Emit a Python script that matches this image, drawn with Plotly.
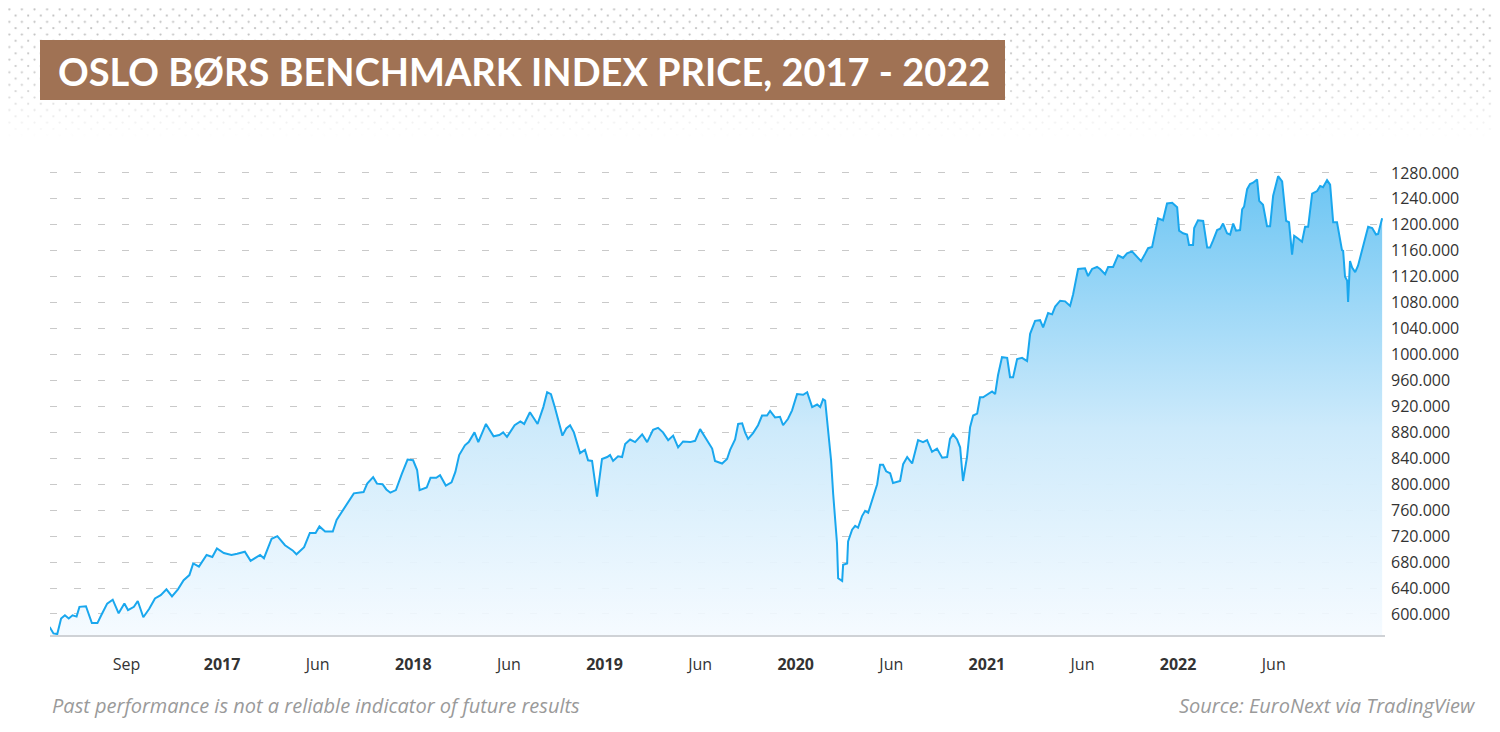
import base64
import plotly.graph_objects as go

# time in decimal years, index level
t = [2016.098,2016.118,2016.138,2016.158,2016.178,2016.198,2016.218,2016.239,2016.254,2016.288,2016.319,2016.348,2016.368,2016.399,2016.428,2016.459,2016.489,2016.508,2016.539,2016.559,2016.588,2016.619,2016.649,2016.679,2016.709,2016.738,2016.769,2016.799,2016.829,2016.849,2016.879,2016.919,2016.949,2016.973,
2017.009,2017.049,2017.079,2017.119,2017.149,2017.199,2017.219,2017.259,2017.289,2017.329,2017.369,2017.389,2017.429,2017.459,2017.489,2017.509,2017.539,2017.579,2017.599,2017.629,2017.660,2017.689,2017.740,2017.759,2017.790,2017.810,2017.839,2017.859,2017.880,2017.909,2017.940,2017.970,2017.999,
2018.020,2018.033,2018.070,2018.090,2018.120,2018.140,2018.170,2018.200,2018.220,2018.240,2018.270,2018.290,2018.320,2018.340,2018.380,2018.420,2018.450,2018.470,2018.490,2018.530,2018.560,2018.580,2018.610,2018.650,2018.680,2018.700,2018.720,2018.740,2018.760,2018.780,2018.800,2018.820,2018.840,
2018.872,2018.898,2018.914,2018.935,2018.961,2018.987,2019.014,2019.029,2019.045,2019.071,2019.092,2019.108,2019.134,2019.160,2019.197,2019.223,2019.254,2019.280,2019.306,2019.333,2019.359,2019.385,2019.411,2019.448,2019.474,2019.500,2019.537,2019.563,2019.578,2019.615,2019.641,2019.657,2019.683,2019.699,2019.720,2019.735,2019.751,2019.777,2019.803,2019.824,2019.850,2019.866,2019.892,2019.918,2019.934,2019.960,2019.981,
2020.007,2020.039,2020.060,2020.086,2020.112,2020.128,2020.143,2020.154,2020.164,2020.180,2020.185,2020.196,2020.216,2020.222,2020.243,2020.248,2020.269,2020.274,2020.295,2020.311,2020.326,2020.347,2020.363,2020.379,2020.405,2020.426,2020.441,2020.457,2020.473,2020.494,2020.509,2020.546,2020.562,2020.583,2020.609,2020.624,2020.640,2020.666,2020.687,2020.713,2020.739,2020.766,2020.792,
2020.807,2020.823,2020.844,2020.860,2020.875,2020.896,2020.912,2020.928,2020.949,2020.964,2020.980,2021.001,2021.027,2021.043,2021.058,2021.079,2021.106,2021.121,2021.137,2021.158,2021.184,2021.210,2021.226,2021.252,2021.278,2021.294,2021.320,2021.341,2021.357,2021.383,2021.409,2021.435,2021.451,2021.477,2021.498,2021.513,2021.529,2021.550,2021.576,2021.592,2021.618,2021.634,2021.660,2021.686,2021.712,2021.733,2021.759,2021.785,2021.806,2021.827,2021.843,2021.864,2021.880,2021.895,2021.921,2021.942,2021.969,2021.995,
2022.005,2022.026,2022.047,2022.057,2022.078,2022.084,2022.104,2022.131,2022.152,2022.167,2022.183,2022.204,2022.220,2022.235,2022.256,2022.272,2022.288,2022.303,2022.324,2022.335,2022.345,2022.361,2022.376,2022.392,2022.413,2022.424,2022.444,2022.465,2022.481,2022.497,2022.523,2022.544,2022.565,2022.580,2022.596,2022.607,2022.627,2022.648,2022.664,2022.680,2022.701,2022.727,2022.743,2022.758,2022.779,2022.795,2022.811,2022.831,2022.857,2022.863,2022.873,2022.884,2022.889,2022.899,2022.910,2022.926,2022.941,2022.967,2022.994,2023.015,2023.035,2023.046,2023.067]

price = [580,570,569,593,598,593,598,596,611,612,586,586,598,616,622,601,616,606,611,620,595,608,624,629,638,627,638,652,660,678,673,691,688,701,
694,691,693,696,682,691,686,716,720,706,698,692,703,725,725,735,727,727,745,759,773,786,788,801,811,801,800,792,787,791,816,838,837,
822,791,795,810,810,814,798,803,819,845,860,865,880,865,893,874,876,880,873,891,897,893,911,893,919,942,939,919,896,875,886,891,880,
848,853,837,836,781,839,842,845,836,843,842,862,869,865,877,865,884,887,880,868,875,857,866,865,867,885,868,855,836,832,839,853,869,893,894,880,870,879,891,906,906,913,903,904,891,901,914,
939,938,942,919,923,919,931,929,896,852,837,785,709,655,651,676,678,712,730,736,733,751,759,756,782,800,830,830,820,817,802,805,831,842,832,852,868,865,868,850,855,841,842,
870,877,869,857,805,842,888,906,909,934,934,938,943,939,968,996,995,965,965,993,995,990,1032,1052,1053,1042,1064,1062,1074,1083,1082,1075,1093,1132,1132,1133,1121,1132,1135,1132,1124,1135,1135,1153,1149,1156,1159,1151,1144,1155,1164,1166,1188,1210,1207,1233,1234,1227,
1191,1187,1185,1169,1169,1195,1207,1206,1165,1165,1176,1192,1194,1202,1187,1185,1202,1191,1192,1224,1228,1255,1263,1265,1270,1237,1231,1198,1198,1245,1275,1267,1206,1204,1154,1183,1179,1174,1197,1197,1248,1252,1260,1258,1269,1262,1204,1204,1161,1160,1120,1114,1081,1144,1134,1127,1137,1165,1197,1195,1185,1186,1210]

x_tick_vals = [2016.5,2017,2017.5,2018,2018.5,2019,2019.5,2020,2020.5,2021,2021.5,2022,2022.5]
x_tick_text = ["Sep","<b>2017</b>","Jun","<b>2018</b>","Jun","<b>2019</b>","Jun","<b>2020</b>","Jun","<b>2021</b>","Jun","<b>2022</b>","Jun"]
y_tick_vals = list(range(600, 1321, 40))
y_tick_text = [f"{v:.3f}" for v in y_tick_vals[:-1]] + [""]
Y_MIN, Y_MAX = 567.6, 1320

# decorative dotted header background
svg = """<svg xmlns='http://www.w3.org/2000/svg' width='1500' height='150' viewBox='0 0 1500 150'>
<defs>
<pattern id='p' width='12.6' height='12.6' patternUnits='userSpaceOnUse'>
<circle cx='3' cy='3' r='1.1' fill='#b9b9b9'/><circle cx='9.3' cy='9.3' r='1.1' fill='#b9b9b9'/>
</pattern>
<linearGradient id='g' x1='0' y1='0' x2='0' y2='1'>
<stop offset='0' stop-color='white' stop-opacity='1'/><stop offset='0.55' stop-color='white' stop-opacity='0.75'/>
<stop offset='0.92' stop-color='white' stop-opacity='0'/></linearGradient>
<mask id='m'><rect width='1500' height='150' fill='url(#g)'/></mask>
</defs>
<rect width='1500' height='150' fill='url(#p)' mask='url(#m)'/>
</svg>"""
svg_uri = "data:image/svg+xml;base64," + base64.b64encode(svg.encode()).decode()

PW, PH = 1335, 488
def px(x): return (x - 50) / PW
def py(y): return (635 - y) / PH

fig = go.Figure()
fig.add_trace(go.Scatter(x=t, y=[Y_MIN]*len(t), mode="lines", line=dict(width=0),
                         hoverinfo="skip", showlegend=False))
fig.add_trace(go.Scatter(x=t, y=price, mode="lines", fill="tonexty",
                         line=dict(color="#19a7ee", width=2),
                         fillgradient=dict(type="vertical",
                                           colorscale=[[0, "rgba(244,250,255,0.9)"], [0.45, "#cdeafb"], [1, "#6cc5f3"]]),
                         showlegend=False))

fig.update_layout(
    width=1484, height=716, margin=dict(l=42, r=107, t=139, b=89),
    paper_bgcolor="white", plot_bgcolor="rgba(0,0,0,0)",
    font=dict(family="Open Sans, sans-serif", color="#333", size=16),
    xaxis=dict(range=[2016.100, 2023.082], tickvals=x_tick_vals, ticktext=x_tick_text,
               showgrid=False, zeroline=False, showline=True, linecolor="#cfd2d6", linewidth=2,
               ticks="", ticklabelstandoff=14),
    yaxis=dict(range=[Y_MIN, Y_MAX], side="right", tickvals=y_tick_vals, ticktext=y_tick_text,
               showgrid=True, gridcolor="#c9c9c9", griddash="7px,17px", gridwidth=1.3,
               zeroline=False, ticks="", ticklabelstandoff=5),
    images=[dict(source=svg_uri, xref="paper", yref="paper", x=px(0), y=py(0),
                 sizex=1500 / PW, sizey=150 / PH, xanchor="left", yanchor="top",
                 sizing="stretch", layer="below")],
    shapes=[dict(type="rect", xref="paper", yref="paper", x0=px(40), x1=px(1005),
                 y0=py(100), y1=py(40), fillcolor="#a07254", line=dict(width=0), layer="above")],
    annotations=[
        dict(text="<b>OSLO BØRS BENCHMARK INDEX PRICE, 2017 - 2022</b>", xref="paper", yref="paper",
             x=px(56), y=py(71), xanchor="left", yanchor="middle", showarrow=False,
             font=dict(family="Lato, sans-serif", size=38, color="white")),
        dict(text="<i>Past performance is not a reliable indicator of future results</i>", xref="paper", yref="paper",
             x=0, y=py(705), xanchor="left", yanchor="middle", showarrow=False,
             font=dict(size=20, color="#9a9a9a")),
        dict(text="<i>Source: EuroNext via TradingView</i>", xref="paper", yref="paper",
             x=px(1478), y=py(705), xanchor="right", yanchor="middle", showarrow=False,
             font=dict(size=20, color="#9a9a9a")),
    ],
)
fig.write_html("out.html")
